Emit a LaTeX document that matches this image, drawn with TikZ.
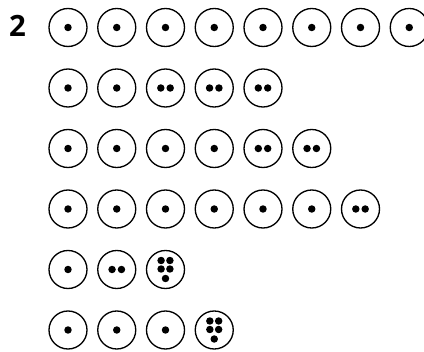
\documentclass[tikz,border=0pt]{standalone}
\usepackage{fontspec}
\setmainfont{Open Sans}
\usepackage{tikz}
\tikzset{
  ring/.style={circle, draw, line width=1pt, minimum size=28.5pt, inner sep=0pt},
  num/.style={font=\bfseries\fontsize{22}{26}\selectfont, inner sep=0pt},
  dots1/.pic={\fill (0,0) circle (2.8pt);},
  dots2/.pic={\fill (-4.7,0) circle (2.8pt) (4.7,0) circle (2.8pt);},
  dots5/.pic={\fill (-4.4,-9) circle (2.8pt) (4.4,-9) circle (2.8pt)
                    (-4.4,-0.5) circle (2.8pt) (4.4,-0.5) circle (2.8pt)
                    (0,9) circle (2.8pt);},
}

\begin{document}
\begin{tikzpicture}[x=0.75pt, y=-0.75pt]
\useasboundingbox (0,0) rectangle (424,352);
\node[num] (task) at (17.5,25.5) {2};
% one row of rings per line; each entry = number of dots
\foreach \pat [count=\r] in {{1,1,1,1,1,1,1,1},{1,1,2,2,2},{1,1,1,1,2,2},
                              {1,1,1,1,1,1,2},{1,2,5},{1,1,1,5}}
  \foreach \n [count=\c] in \pat {
    \node[ring] (r\r c\c) at ({68+48.75*(\c-1)}, {27.5+60.5*(\r-1)}) {};
    \pic at (r\r c\c) {dots\n};
  }
\end{tikzpicture}
\end{document}
